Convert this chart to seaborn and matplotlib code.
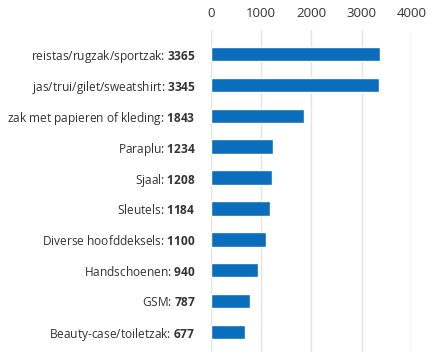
import pandas as pd
import matplotlib.pyplot as plt
import seaborn as sns

items = ['reistas/rugzak/sportzak', 'jas/trui/gilet/sweatshirt', 'zak met papieren of kleding',
         'Paraplu', 'Sjaal', 'Sleutels', 'Diverse hoofddeksels', 'Handschoenen', 'GSM',
         'Beauty-case/toiletzak']
counts = [3365, 3345, 1843, 1234, 1208, 1184, 1100, 940, 787, 677]
ticks = [0, 1000, 2000, 3000, 4000]

sns.set_style('white')
plt.rcParams['font.family'] = ['Open Sans', 'DejaVu Sans']
plt.rcParams['mathtext.fontset'] = 'custom'
plt.rcParams['mathtext.rm'] = 'Open Sans'
plt.rcParams['mathtext.bf'] = 'Open Sans:bold'

data = pd.DataFrame({'item': items, 'count': counts})
data['label'] = [f'{i}: ' + r'$\mathbf{' + str(c) + '}$' for i, c in zip(items, counts)]

fig = plt.figure(figsize=(4.43, 3.58), dpi=100)
ax = fig.add_axes([0.476, 0.017, 0.454, 0.899])
sns.barplot(data=data, x='count', y='label', color='#0a6ebd', width=0.47, saturation=1, ax=ax)

ax.set_xlim(0, 4000)
ax.set_ylim(9.65, -0.78)
ax.set_xticks(ticks)
ax.xaxis.tick_top()
ax.grid(axis='x', color='#e3e3e3', linewidth=1)
ax.set_axisbelow(True)
ax.tick_params(axis='x', length=0, pad=7, labelsize=9.5, labelcolor='#333333')
ax.tick_params(axis='y', length=0, pad=11, labelsize=8.6, labelcolor='#333333')
ax.set_xlabel('')
ax.set_ylabel('')
sns.despine(ax=ax, left=True, bottom=True, top=True, right=True)

fig.savefig('out.png', dpi=100)
